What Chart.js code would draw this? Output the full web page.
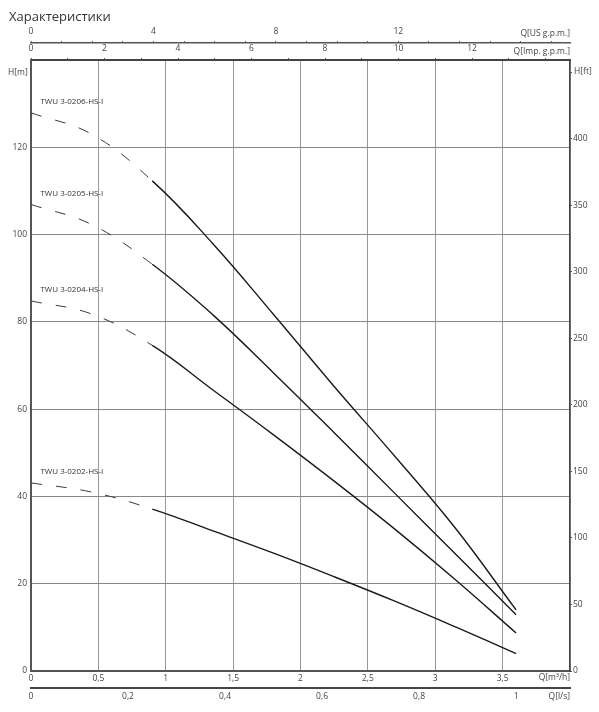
<!DOCTYPE html>
<html>
<head>
<meta charset="utf-8">
<script src="https://cdn.jsdelivr.net/npm/chart.js@4"></script>
<style>
  html, body { margin: 0; padding: 0; background: #fff; }
  #wrap { width: 599px; height: 712px; }
</style>
</head>
<body>
<div id="wrap"><canvas id="myChart" width="599" height="712"></canvas></div>
<script>
// flow points, m3/h
const flowQ = [0, 0.45, 0.9, 1.35, 1.8, 2.25, 2.7, 3.15, 3.6];
// head, m
const head0206 = [127.9, 123.0, 112.3, 97.9, 81.7, 65.2, 49.2, 32.7, 14.0];
const head0205 = [106.9, 102.3, 93.2, 81.6, 68.3, 54.6, 40.7, 26.8, 12.9];
const head0204 = [84.8, 81.8, 74.6, 64.4, 54.1, 43.5, 32.5, 20.9, 8.7];
const head0202 = [43.1, 41.0, 37.1, 32.1, 27.0, 21.6, 16.0, 10.1, 4.0];
const models = ['TWU 3-0206-HS-I', 'TWU 3-0205-HS-I', 'TWU 3-0204-HS-I', 'TWU 3-0202-HS-I'];
const solidFrom = 0.85;   // curve is dashed below this flow

// unit factors
const US_GPM = 4.4029, IMP_GPM = 3.6662, LS = 1 / 3.6, FT = 3.28084;
const Q_MAX = 4, H_MAX = 140;

const FONT = 'Open Sans';
const tickFont = { family: FONT, size: 8.5 };
const comma = v => String(Number(v.toFixed(2))).replace('.', ',');

function curve(label, heads) {
  return {
    label: label,
    data: flowQ.map((q, i) => ({ x: q, y: heads[i] })),
    borderColor: '#1a1a1a',
    borderWidth: 1.4,
    pointRadius: 0,
    tension: 0.4,
    segment: {
      borderDash: ctx => ctx.p0.parsed.x < solidFrom ? [11, 14] : undefined,
      borderWidth: ctx => ctx.p0.parsed.x < solidFrom ? 1 : 1.4,
      borderColor: ctx => ctx.p0.parsed.x < solidFrom ? '#3a3a3a' : '#1a1a1a'
    }
  };
}

const size = (w, h) => scale => {
  if (w !== null) scale.width = w;
  if (h !== null) scale.height = h;
};

// texts that sit outside the library's tick labels
const decor = {
  id: 'decor',
  afterDraw(chart) {
    const ctx = chart.ctx, a = chart.chartArea;
    const xs = chart.scales.x, ys = chart.scales.y;
    ctx.save();
    ctx.fillStyle = '#333';
    ctx.textBaseline = 'middle';
    ctx.font = '13px "' + FONT + '"';
    ctx.textAlign = 'left';
    ctx.fillText('Характеристики', 9, 17);

    ctx.fillStyle = '#444';
    ctx.font = '8.5px "' + FONT + '"';
    ctx.textAlign = 'right';
    ctx.fillText('Q[US g.p.m.]', a.right, 34);
    ctx.fillText('Q[Imp. g.p.m.]', a.right, 52);
    ctx.fillText('Q[m³/h]', a.right, 678);
    ctx.fillText('Q[l/s]', a.right, 697);
    ctx.textAlign = 'left';
    ctx.fillText('H[m]', 8, 73);
    ctx.fillText('H[ft]', a.right + 4, 72);

    // model names above the start of each curve
    ctx.font = '8px "' + FONT + '"';
    ctx.fillStyle = '#333';
    chart.data.datasets.forEach(ds => {
      ctx.fillText(ds.label, xs.getPixelForValue(0.07), ys.getPixelForValue(ds.data[0].y) - 11);
    });
    ctx.restore();
  }
};

const config = {
  type: 'line',
  data: {
    datasets: [
      curve(models[0], head0206),
      curve(models[1], head0205),
      curve(models[2], head0204),
      curve(models[3], head0202)
    ]
  },
  options: {
    responsive: false,
    animation: false,
    layout: { padding: { top: 24, left: 0, right: 0, bottom: 0 } },
    plugins: { legend: { display: false }, tooltip: { enabled: false } },
    scales: {
      x: {
        type: 'linear', position: 'bottom', weight: 0,
        min: 0, max: Q_MAX,
        ticks: { stepSize: 0.5, autoSkip: false, maxRotation: 0, padding: 2, color: '#444', font: tickFont,
                 callback: v => v >= Q_MAX ? '' : comma(v) },
        grid: { color: '#999', lineWidth: 1, drawTicks: false },
        border: { color: '#555', width: 2 },
        afterFit: size(null, 17)
      },
      xls: {
        type: 'linear', position: 'bottom', weight: 1,
        min: 0, max: Q_MAX * LS,
        ticks: { stepSize: 0.2, includeBounds: false, autoSkip: false, maxRotation: 0, padding: 3, color: '#444', font: tickFont,
                 callback: v => comma(v) },
        grid: { display: false, drawTicks: false },
        border: { color: '#444', width: 2 },
        afterFit: size(null, 24)
      },
      ximp: {
        type: 'linear', position: 'top', weight: 0,
        min: 0, max: Q_MAX * IMP_GPM,
        ticks: { stepSize: 1, includeBounds: false, autoSkip: false, maxRotation: 0, padding: 4.5, color: '#444', font: tickFont,
                 callback: v => (v % 2 === 0 && v <= 12) ? String(v) : '' },
        grid: { drawOnChartArea: false, tickLength: 2, color: '#555' },
        border: { color: '#444', width: 2 },
        afterFit: size(null, 17)
      },
      xus: {
        type: 'linear', position: 'top', weight: 1,
        min: 0, max: Q_MAX * US_GPM,
        ticks: { stepSize: 1, includeBounds: false, autoSkip: false, maxRotation: 0, padding: 4.4, color: '#444', font: tickFont,
                 callback: v => (v % 4 === 0 && v <= 12) ? String(v) : '' },
        grid: { drawOnChartArea: false, tickLength: 2, color: '#666' },
        border: { color: '#555', width: 1.5 },
        afterFit: size(null, 19)
      },
      y: {
        type: 'linear', position: 'left',
        min: 0, max: H_MAX,
        ticks: { stepSize: 20, padding: 4, color: '#444', font: tickFont,
                 callback: v => v >= H_MAX ? '' : String(v) },
        grid: { color: '#888', lineWidth: 1, drawTicks: false },
        border: { color: '#555', width: 2 },
        afterFit: size(31, null)
      },
      yft: {
        type: 'linear', position: 'right',
        min: 0, max: H_MAX * FT,
        ticks: { stepSize: 50, includeBounds: false, padding: 1, color: '#444', font: tickFont,
                 callback: v => v >= 450 ? '' : String(v) },
        grid: { drawOnChartArea: false, tickLength: 2, color: '#555' },
        border: { color: '#444', width: 1.5 },
        afterFit: size(29, null)
      }
    }
  },
  plugins: [decor]
};

const myChart = new Chart(document.getElementById('myChart'), config);
</script>
</body>
</html>
